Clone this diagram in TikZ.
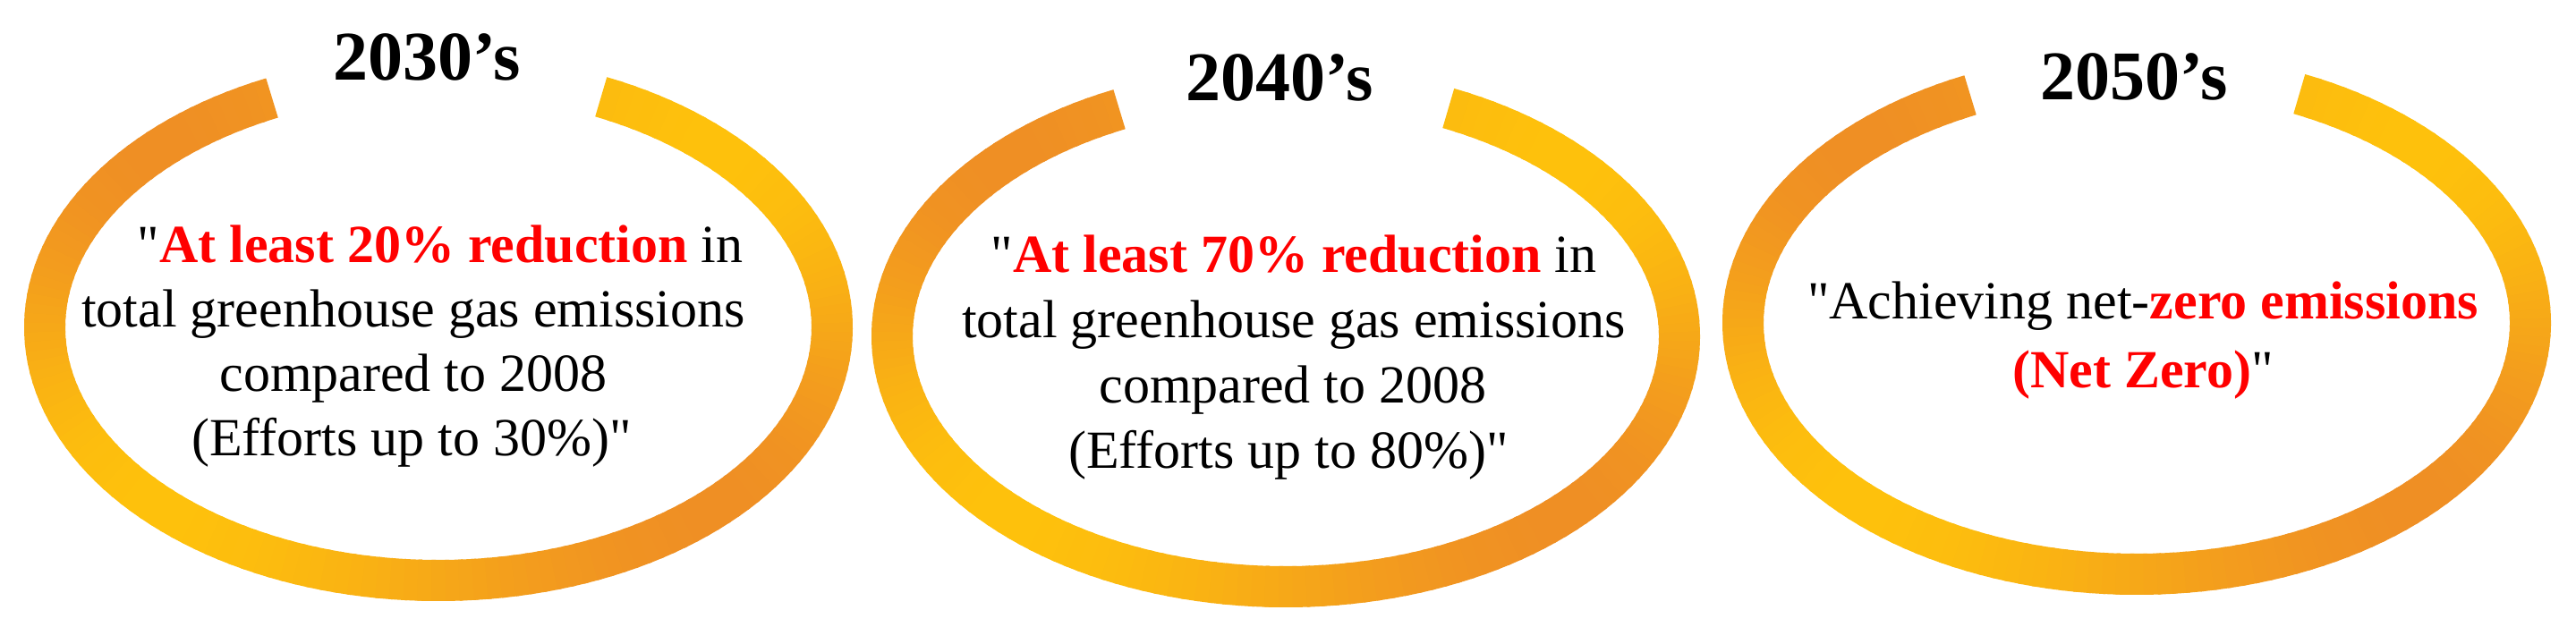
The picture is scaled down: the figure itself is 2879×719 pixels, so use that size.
\documentclass[tikz,border=0pt]{standalone}
\usepackage{fontspec}
\setmainfont{Liberation Serif}[Ligatures=TeXOff]
\definecolor{ringorange}{RGB}{239,143,36}
\definecolor{ringyellow}{RGB}{254,193,12}
\definecolor{txtred}{RGB}{255,0,0}
\newcommand{\hlred}[1]{\textcolor{txtred}{\textbf{#1}}}
\newcommand{\drawring}[2]{%
  \foreach \a in {115,117,...,423}{%
    \pgfmathsetmacro{\p}{50+50*sin(2*(\a+1))}%
    \draw[ringstroke, color=ringyellow!\p!ringorange] (#1) ++(\a:110pt and #2) arc[start angle=\a, end angle=\a+2.6, x radius=110pt, y radius=#2];
  }%
}
\tikzset{
  ringstroke/.style={line width=11.5pt, line cap=butt},
  yearlabel/.style={font=\fontsize{19.5}{22}\selectfont\bfseries, anchor=base, inner sep=0pt},
  bodyline/.style={font=\fontsize{15}{18}\selectfont, anchor=base, inner sep=0pt},
}
\begin{document}
\begin{tikzpicture}[x=0.25pt,y=0.25pt]
\useasboundingbox (0,0) rectangle (2879,719);
\fill[white] (0,0) rectangle (2879,719);
\coordinate (c1) at (490,353);
\coordinate (c2) at (1437,343);
\coordinate (c3) at (2388,358);
\drawring{c1}{70.75pt}
\drawring{c2}{70pt}
\drawring{c3}{70.25pt}
% year labels
\node[yearlabel] (y1) at (477,629) {2030’s};
\node[yearlabel] (y2) at (1430,606) {2040’s};
\node[yearlabel] (y3) at (2385,607) {2050’s};
% ring 1 text
\node[bodyline] (t1a) at (492,426) {"\hlred{At least 20\% reduction} in};
\node[bodyline] (t1b) at (462,354) {total greenhouse gas emissions};
\node[bodyline] (t1c) at (462,282) {compared to 2008};
\node[bodyline] (t1d) at (460,210) {(Efforts up to 30\%)"};
% ring 2 text
\node[bodyline] (t2a) at (1446,415) {"\hlred{At least 70\% reduction} in};
\node[bodyline] (t2b) at (1446,342) {total greenhouse gas emissions};
\node[bodyline] (t2c) at (1445,269) {compared to 2008};
\node[bodyline] (t2d) at (1440,196) {(Efforts up to 80\%)"};
% ring 3 text
\node[bodyline] (t3a) at (2395,363) {"Achieving net-\hlred{zero emissions}};
\node[bodyline] (t3b) at (2395,286) {\hlred{(Net Zero)}"};
\end{tikzpicture}
\end{document}
